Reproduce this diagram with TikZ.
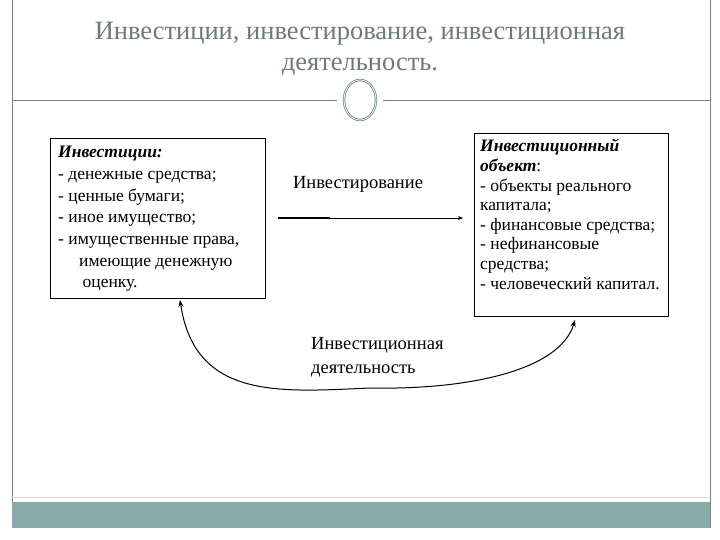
\documentclass[tikz,border=0pt]{standalone}
\usepackage{fontspec}
\setmainfont{Liberation Serif}
\usetikzlibrary{arrows.meta}
\definecolor{ttl}{HTML}{6B7B7C}
\definecolor{bar}{HTML}{8AABAB}
\definecolor{ring}{HTML}{7F9A98}
\begin{document}
\begin{tikzpicture}[x=1pt,y=-1pt,
  box/.style={draw,line width=0.8pt},
  txt/.style={font=\fontsize{17.5}{21.7}\selectfont,align=left,anchor=north west,inner sep=0pt}]
\useasboundingbox (0,0) rectangle (720,540);
\fill[white] (0,0) rectangle (720,540);
\draw[gray,line width=0.6pt] (12,0) -- (12,528) (710,0) -- (710,528);
\fill[bar] (12,502) rectangle (710,528);
\draw[gray!30] (12,497) -- (710,497);
\node[ttl,font=\fontsize{26.5}{31}\selectfont,align=center] (title) at (360,49) {Инвестиции, инвестирование, инвестиционная\\деятельность.};
\draw[gray,line width=0.8pt] (12,100) -- (337,100) (383,100) -- (710,100);
\draw[ring,line width=2.5pt] (360,100) ellipse (16 and 20);
\draw[white,line width=0.6pt] (360,100) ellipse (16 and 20);
\draw[box] (50,138) rectangle (265,298);
\node[txt] (inv) at (58,146) {\textbf{\textit{Инвестиции:}}\\- денежные средства;\\- ценные бумаги;\\- иное имущество;\\- имущественные права,\\\hspace*{1.2em}имеющие денежную\\\hspace*{1.4em}оценку.};
\draw[box] (474,133) rectangle (668,316);
\node[txt,font=\fontsize{17.5}{19.6}\selectfont] (obj) at (480,139) {\textbf{\textit{Инвестиционный}}\\\textbf{\textit{объект}}:\\- объекты реального\\капитала;\\- финансовые средства;\\- нефинансовые\\средства;\\- человеческий капитал.};
\node[font=\fontsize{18.5}{20}\selectfont] (ing) at (358,184) {Инвестирование};
\coordinate (a1) at (278,218);
\coordinate (a2) at (330,218);
\coordinate (a3) at (463,218);
\draw[line width=0.7pt,-{Stealth[length=5pt,width=4pt]}] (a1) -- (a3);
\draw[line width=1.6pt] (a1) -- (a2);
\node[font=\fontsize{18.5}{24}\selectfont,align=left,anchor=north west,inner sep=0pt] (dea) at (311,337) {Инвестиционная\\деятельность};
\coordinate (c1) at (180,300);
\coordinate (c2) at (575,320);
\draw[line width=1pt,{Stealth[length=7pt]}-{Stealth[length=7pt]}] (c1) .. controls (195,400) and (280,392) .. (370,388) .. controls (470,390) and (560,370) .. (c2);
\end{tikzpicture}
\end{document}
